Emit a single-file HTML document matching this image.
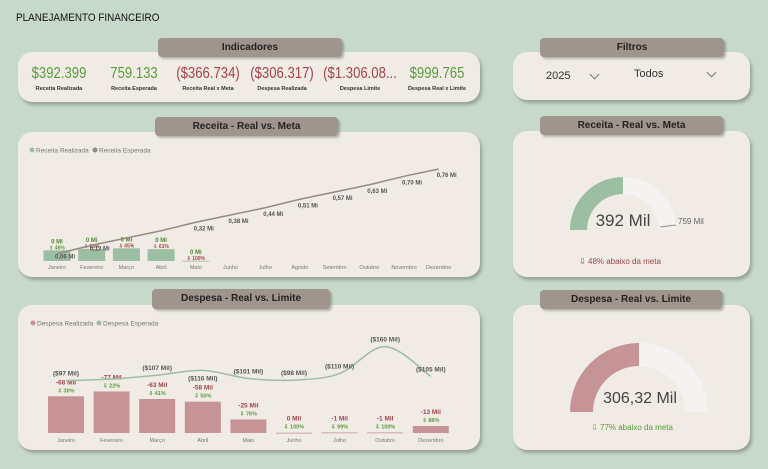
<!DOCTYPE html>
<html><head><meta charset="utf-8"><style>
body{margin:0;width:768px;height:469px;background:#c7d9cb;font-family:"Liberation Sans",sans-serif;position:relative;overflow:hidden}
.card{position:absolute;background:#f0ebe5;border-radius:14px;box-shadow:2px 3px 3px rgba(0,0,0,.25)}
.tab{position:absolute;background:#a0958c;border-radius:4px;box-shadow:2px 2px 2px rgba(0,0,0,.25);font-weight:bold;font-size:10px;color:#222;text-align:center;line-height:19px}
.kv{position:absolute;top:65px;font-size:16px;transform:translateX(-50%) scaleX(0.82);white-space:nowrap}
.kl{position:absolute;top:86px;font-size:5.5px;font-weight:bold;color:#333;transform:translateX(-50%);white-space:nowrap}
.g{color:#5b9a3c}.r{color:#a2434c}
.chev{position:absolute;width:6px;height:6px;border-right:1px solid #777;border-bottom:1px solid #777;transform:rotate(45deg)}
svg{position:absolute;left:0;top:0}
</style></head><body>
<div style="position:absolute;left:16px;top:12px;font-size:11px;color:#111;transform:scaleX(0.9);transform-origin:left">PLANEJAMENTO FINANCEIRO</div>

<div class="card" style="left:18px;top:52px;width:462px;height:50px"></div>
<div class="tab" style="left:158px;top:38px;width:184px;height:19px">Indicadores</div>
<div class="kv g" style="left:59px">$392.399</div>
<div class="kl" style="left:59px">Receita Realizada</div>
<div class="kv g" style="left:134px">759.133</div>
<div class="kl" style="left:134px">Receita Esperada</div>
<div class="kv r" style="left:208px">($366.734)</div>
<div class="kl" style="left:208px">Receita Real x Meta</div>
<div class="kv r" style="left:282px">($306.317)</div>
<div class="kl" style="left:282px">Despesa Realizada</div>
<div class="kv r" style="left:360px">($1.306.08...</div>
<div class="kl" style="left:360px">Despesa Limite</div>
<div class="kv g" style="left:437px">$999.765</div>
<div class="kl" style="left:437px">Despesa Real x Limite</div>

<div class="card" style="left:513px;top:52px;width:237px;height:48px"></div>
<div class="tab" style="left:540px;top:38px;width:184px;height:19px">Filtros</div>
<div style="position:absolute;left:546px;top:70px;width:60px;height:16px;font-size:11px;color:#333">2025<span class="chev" style="left:45px;top:1px"></span></div>
<div style="position:absolute;left:634px;top:68px;width:90px;height:16px;font-size:11px;color:#333">Todos<span class="chev" style="left:74px;top:1px"></span></div>

<div class="card" style="left:18px;top:132px;width:462px;height:145px"></div>
<div class="tab" style="left:155px;top:117px;width:183px;height:19px">Receita - Real vs. Meta</div>
<div class="card" style="left:513px;top:131px;width:237px;height:146px"></div>
<div class="tab" style="left:540px;top:116px;width:183px;height:19px">Receita - Real vs. Meta</div>
<div class="card" style="left:18px;top:305px;width:462px;height:145px"></div>
<div class="tab" style="left:152px;top:289px;width:178px;height:20px">Despesa - Real vs. Limite</div>
<div class="card" style="left:513px;top:305px;width:237px;height:145px"></div>
<div class="tab" style="left:540px;top:290px;width:182px;height:19px">Despesa - Real vs. Limite</div>

<svg id="svg" width="768" height="469" font-family="Liberation Sans, sans-serif"></svg>
<script>
const recMonths=["Janeiro","Fevereiro","Março","Abril","Maio","Junho","Julho","Agosto","Setembro","Outubro","Novembro","Dezembro"];
const recReal=[0.088,0.10,0.105,0.098,0.002];
const recRealLabels=["0 Mi","0 Mi","0 Mi","0 Mi","0 Mi"];
const recPct=["⇧ 46%","⇩ 23%","⇩ 45%","⇩ 61%","⇩ 100%"];
const recPctUp=[true,false,false,false,false];
const recMeta=[0.06,0.13,0.19,0.25,0.32,0.38,0.44,0.51,0.57,0.63,0.70,0.76];
const recMetaLabels=["0,06 Mi","0,13 Mi","","","0,32 Mi","0,38 Mi","0,44 Mi","0,51 Mi","0,57 Mi","0,63 Mi","0,70 Mi","0,76 Mi"];
const desMonths=["Janeiro","Fevereiro","Março","Abril","Maio","Junho","Julho","Outubro","Dezembro"];
const desReal=[68,77,63,58,25,0.5,1,1,13];
const desRealLabels=["-68 Mil","-77 Mil","-63 Mil","-58 Mil","-25 Mil","0 Mil","-1 Mil","-1 Mil","-13 Mil"];
const desPct=["⇩ 30%","⇩ 22%","⇩ 41%","⇩ 50%","⇩ 76%","⇩ 100%","⇩ 99%","⇩ 100%","⇩ 88%"];
const desLim=[97,100,107,116,101,98,110,160,105];
const desLimLabels=["($97 Mil)","","($107 Mil)","($116 Mil)","($101 Mil)","($98 Mil)","($110 Mil)","($160 Mil)","($105 Mil)"];
const gauge1=[392,759]; const gauge2=[306.32,612.64];

const S=document.getElementById('svg');const NS='http://www.w3.org/2000/svg';
function el(t,a,txt){const e=document.createElementNS(NS,t);for(const k in a)e.setAttribute(k,a[k]);if(txt!==undefined)e.textContent=txt;S.appendChild(e);return e;}
function tx(x,y,s,size,fill,w,anchor){return el('text',{x:x,y:y,'font-size':size,fill:fill,'font-weight':w||'normal','text-anchor':anchor||'middle'},s);}
let e;
e=el('circle',{cx:32,cy:150,r:2.5,fill:'#9cbea2'});
tx(36,152.5,'Receita Realizada',6.5,'#777','normal','start');
e=el('circle',{cx:95,cy:150,r:2.5,fill:'#968a83'});
tx(99,152.5,'Receita Esperada',6.5,'#777','normal','start');
const rx=i=>57+i*34.7, ry=v=>261-v*121;
recMonths.forEach((m,i)=>{const t=tx(rx(i),269,m,5.5,'#777');});
recReal.forEach((v,i)=>{const b=el('rect',{x:rx(i)-13.5,y:ry(v),width:27,height:Math.max(261-ry(v),0.8),fill:'#9cbea2'});

tx(rx(i),ry(v)-7,recRealLabels[i],6,'#4f8a2e','bold');
tx(rx(i),ry(v)-1,recPct[i],5,recPctUp[i]?'#5b9a3c':'#a2434c','bold');});
let d='';recMeta.forEach((v,i)=>{d+=(i?'L':'M')+rx(i)+' '+ry(v);});
e=el('path',{d:d,stroke:'#968a83','stroke-width':1.5,fill:'none'});
recMeta.forEach((v,i)=>{if(recMetaLabels[i]){const t=tx(rx(i)+8,ry(v)+(i<2?5:8),recMetaLabels[i],6,'#555','bold');}});
e=el('circle',{cx:33,cy:323,r:2.5,fill:'#c99498'});
tx(37,325.5,'Despesa Realizada',6.5,'#777','normal','start');
e=el('circle',{cx:99,cy:323,r:2.5,fill:'#9cbea2'});
tx(103,325.5,'Despesa Esperada',6.5,'#777','normal','start');
const dx=i=>66+i*45.6, dy=v=>433-v*0.54;
desMonths.forEach((m,i)=>{const t=tx(dx(i),442,m,5.5,'#777');});
desReal.forEach((v,i)=>{const b=el('rect',{x:dx(i)-18,y:dy(v),width:36,height:Math.max(433-dy(v),0.8),fill:'#c69397'});

tx(dx(i),dy(v)-12,desRealLabels[i],6.5,'#a2434c','bold');
tx(dx(i),dy(v)-4,desPct[i],5.5,'#5b9a3c','bold');});
const P=desLim.map((v,i)=>[dx(i),dy(v)]);
d='M'+P[0][0]+' '+P[0][1];
for(let i=0;i<P.length-1;i++){const p0=P[Math.max(i-1,0)],p1=P[i],p2=P[i+1],p3=P[Math.min(i+2,P.length-1)];
d+=' C'+(p1[0]+(p2[0]-p0[0])/6)+' '+(p1[1]+(p2[1]-p0[1])/6)+' '+(p2[0]-(p3[0]-p1[0])/6)+' '+(p2[1]-(p3[1]-p1[1])/6)+' '+p2[0]+' '+p2[1];}
e=el('path',{d:d,stroke:'#9cbea2','stroke-width':1.5,fill:'none'});
desLim.forEach((v,i)=>{if(desLimLabels[i]){const t=tx(dx(i),dy(v)+(i==3?10:-5),desLimLabels[i],6.5,'#555','bold');}});
function arc(cx,cy,R,r,f0,f1){const a0=Math.PI*(1-f0),a1=Math.PI*(1-f1);
const p=(rr,a)=>(cx+rr*Math.cos(a))+' '+(cy-rr*Math.sin(a));
return 'M'+p(R,a0)+' A'+R+' '+R+' 0 0 1 '+p(R,a1)+' L'+p(r,a1)+' A'+r+' '+r+' 0 0 0 '+p(r,a0)+'Z';}
function gauge(cx,cy,R,r,val,max,col,name){
e=el('path',{d:arc(cx,cy,R,r,0,1),fill:'#f5f3f1'});
e=el('path',{d:arc(cx,cy,R,r,0,Math.min(val/max,1)),fill:col});}
gauge(623,230,53,36,gauge1[0],gauge1[0]/0.5,'#9cbea2','receita-gauge');
e=tx(623,226,Math.round(gauge1[0])+' Mil',17,'#444');
el('line',{x1:660,y1:227,x2:676,y2:225,stroke:'#968a83','stroke-width':1});
e=tx(678,224,gauge1[1]+' Mil',8,'#666','normal','start');
e=tx(620,264,'⇩ 48% abaixo da meta',8,'#a2434c');
gauge(639,412,69,46,gauge2[0],gauge2[1],'#c69397','despesa-gauge');
e=tx(640,403,gauge2[0].toFixed(2).replace('.',',')+' Mil',16,'#444');
e=tx(632,430,'⇩ 77% abaixo da meta',8,'#5b9a3c');
</script>
</body></html>
